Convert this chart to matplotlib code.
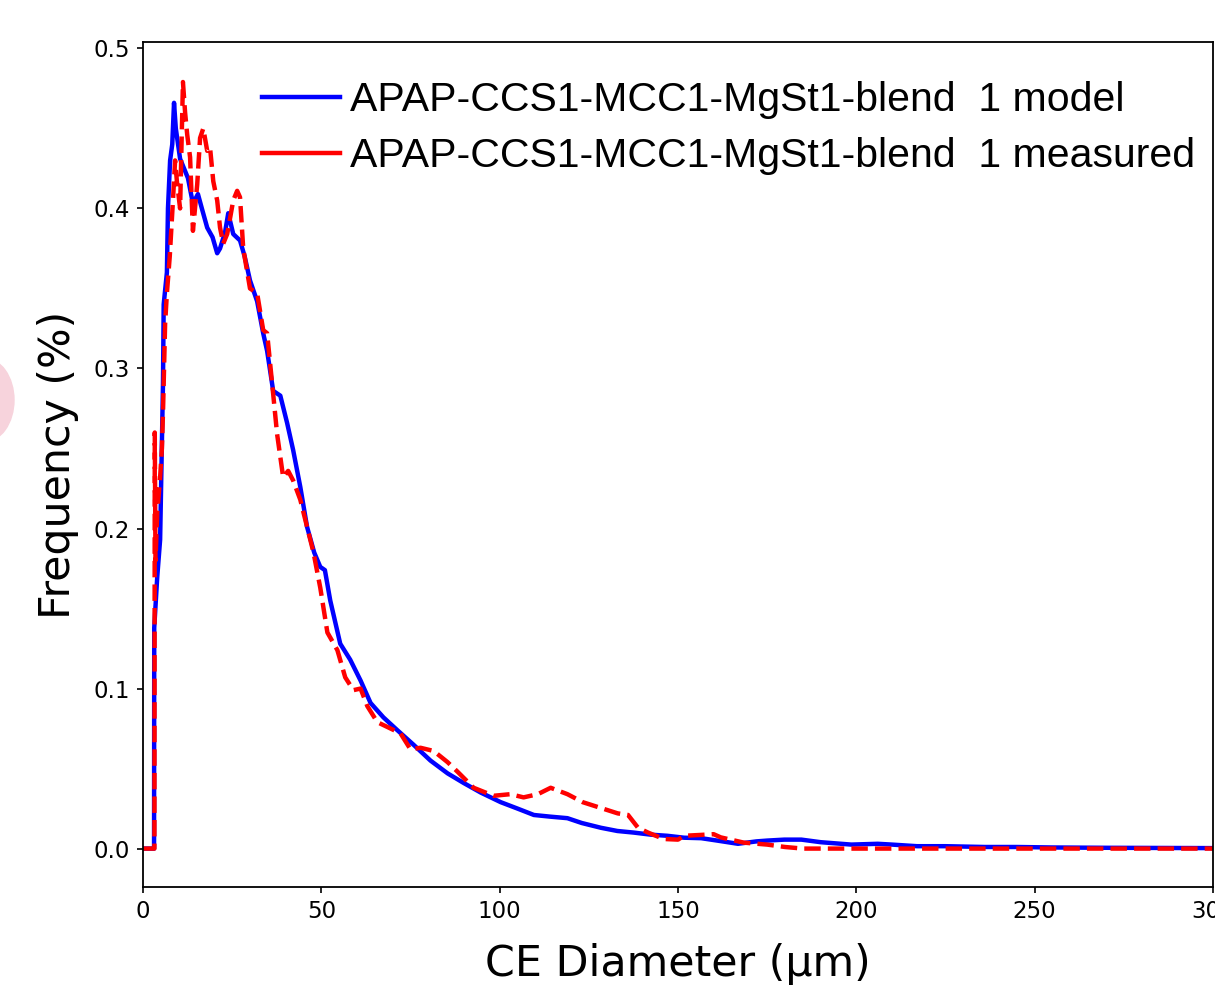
import matplotlib
matplotlib.use("Agg")
import matplotlib.pyplot as plt
from matplotlib.lines import Line2D
from matplotlib.patches import Ellipse

# model curve (blue)
model_x = [0, 3.1, 3.15, 3.6, 4.0, 4.8, 5.6, 5.8, 6.7, 7.0, 7.6, 8.2, 8.7, 9.2,
           10.4, 11.5, 12.6, 14.0, 15.4, 16.5, 18.0, 19.5, 20.8, 21.6, 23.0, 23.9,
           25.3, 27.2, 28.5, 30.0, 32.0, 33.7, 34.8, 36.5, 38.5, 40.4, 42.1, 44.1,
           46.0, 48.0, 49.7, 51.0, 52.5, 55.3, 58.1, 61.0, 63.8, 67.4, 71.3, 75.8,
           80.6, 85.4, 89.9, 94.7, 100.3, 105, 109.6, 114, 119, 123, 128.4, 133,
           137.6, 142.4, 147, 151.7, 156.5, 161, 166.8, 172, 175, 179.8, 184.6, 190,
           198.6, 206, 210, 217, 225, 236, 245, 254.8, 270, 285, 300]
model_y = [0, 0, 0.138, 0.155, 0.17, 0.193, 0.29, 0.34, 0.36, 0.40, 0.43, 0.44,
           0.466, 0.45, 0.431, 0.425, 0.419, 0.403, 0.409, 0.400, 0.388, 0.382,
           0.372, 0.375, 0.385, 0.397, 0.384, 0.380, 0.370, 0.355, 0.342, 0.322,
           0.311, 0.286, 0.283, 0.266, 0.249, 0.226, 0.201, 0.185, 0.176, 0.174,
           0.155, 0.128, 0.118, 0.105, 0.091, 0.082, 0.074, 0.065, 0.055, 0.047,
           0.041, 0.035, 0.029, 0.025, 0.021, 0.020, 0.019, 0.016, 0.013, 0.011,
           0.010, 0.0087, 0.008, 0.0068, 0.0065, 0.005, 0.003, 0.0045, 0.005,
           0.0056, 0.0056, 0.004, 0.0025, 0.003, 0.0025, 0.0015, 0.0015, 0.001,
           0.001, 0.0007, 0.0005, 0.0004, 0.0003]

# measured curve (red, dashed)
meas_x = [0, 3.2, 3.3, 3.5, 4.0, 4.8, 5.3, 5.6, 6.2, 6.7, 7.5, 8.4, 9.0, 9.5,
          10.4, 11.2, 11.8, 12.4, 13.2, 14.0, 15.2, 16.0, 16.9, 18.0, 18.8, 19.7,
          20.8, 21.6, 22.5, 23.6, 24.5, 25.3, 26.4, 27.2, 28.1, 30.0, 32.0, 33.7,
          34.8, 36.5, 37.6, 39.3, 40.7, 42.1, 44.1, 46.0, 47.8, 49.7, 51.7, 54.5,
          56.7, 59.0, 61.0, 62.9, 65.7, 68.5, 72.2, 75, 77.8, 81.5, 85.4, 88.2,
          92.7, 98.3, 103, 106.7, 110.7, 114.3, 119, 123.3, 127.5, 133.1, 136,
          138.8, 141.6, 146, 150, 151.7, 156, 160, 162, 168.5, 175, 180, 185, 300]
meas_y = [0, 0, 0.26, 0.18, 0.21, 0.232, 0.25, 0.272, 0.328, 0.347, 0.37, 0.405,
          0.43, 0.417, 0.40, 0.479, 0.46, 0.446, 0.432, 0.386, 0.415, 0.444, 0.45,
          0.436, 0.438, 0.417, 0.405, 0.388, 0.378, 0.384, 0.395, 0.405, 0.411,
          0.407, 0.375, 0.350, 0.347, 0.324, 0.322, 0.284, 0.259, 0.232, 0.236,
          0.230, 0.218, 0.201, 0.185, 0.163, 0.135, 0.124, 0.107, 0.099, 0.10,
          0.089, 0.079, 0.076, 0.072, 0.062, 0.063, 0.061, 0.054, 0.048, 0.038,
          0.033, 0.034, 0.032, 0.034, 0.038, 0.034, 0.029, 0.026, 0.022, 0.021,
          0.013, 0.010, 0.006, 0.0056, 0.008, 0.0085, 0.009, 0.007, 0.0037,
          0.0025, 0.001, 0.0, 0.0]

labels = ["APAP-CCS1-MCC1-MgSt1-blend  1 model",
          "APAP-CCS1-MCC1-MgSt1-blend  1 measured"]

fig = plt.figure(figsize=(12.15, 9.91), dpi=100)
ax = fig.add_axes([143 / 1215, 104 / 991, 1070 / 1215, 845 / 991])

ax.plot(model_x, model_y, color="blue", lw=3.2)
ax.plot(meas_x, meas_y, color="red", lw=3.2, ls="--")

ax.set_xlim(0, 300)
ax.set_ylim(-0.024, 0.504)
ax.set_xticks([0, 50, 100, 150, 200, 250, 300])
ax.set_yticks([0.0, 0.1, 0.2, 0.3, 0.4, 0.5])
ax.tick_params(labelsize=16.5, length=4.5, width=1.2, pad=5)
for s in ax.spines.values():
    s.set_linewidth(1.3)

ax.set_xlabel("CE Diameter (µm)", fontsize=30.8, labelpad=14)
ax.set_ylabel("Frequency (%)", fontsize=30.8, labelpad=10)

handles = [Line2D([], [], color="blue", lw=3.2),
           Line2D([], [], color="red", lw=3.2)]
fig.legend(handles, labels, loc="upper left", bbox_to_anchor=(262 / 1215, 1 - 81 / 991),
           frameon=False, prop={"family": "Liberation Sans", "size": 29.5},
           handlelength=1.9, handletextpad=0.25, labelspacing=0.45,
           borderpad=0, borderaxespad=0)

# faint pink blob at the left edge
fig.patches.append(Ellipse((-16 / 1215, 1 - 400 / 991), 60 / 1215, 84 / 991,
                           transform=fig.transFigure, color="#f7d3dc", zorder=0))

fig.savefig("out.png", dpi=100)
